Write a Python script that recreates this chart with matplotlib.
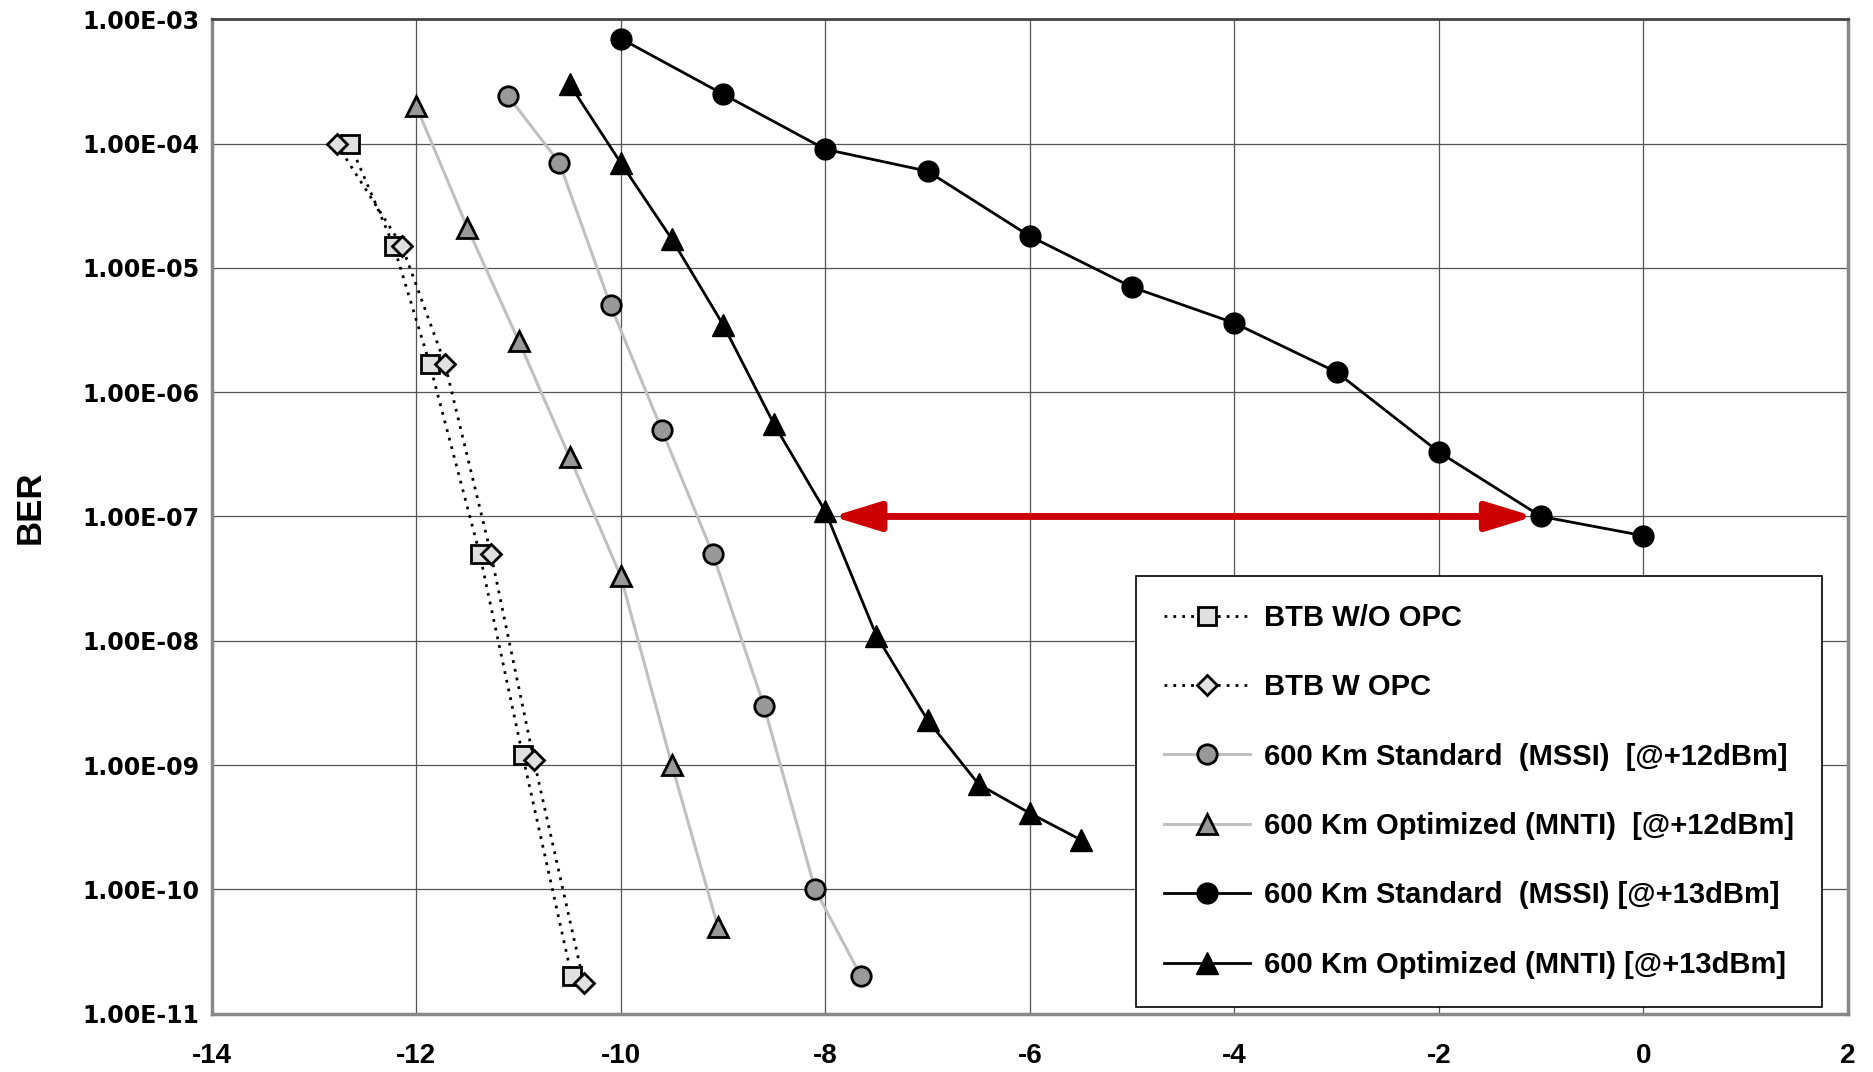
import numpy as np
import matplotlib
matplotlib.use("Agg")
import matplotlib.pyplot as plt
from matplotlib.ticker import FixedLocator, FuncFormatter

# OSNR / power axis values (dB) and BER
btb_wo_x = [-12.65, -12.22, -11.87, -11.38, -10.96, -10.48]
btb_wo_y = [1.0e-4, 1.5e-5, 1.7e-6, 5.0e-8, 1.2e-9, 2.0e-11]

btb_w_x = [-12.78, -12.14, -11.72, -11.27, -10.85, -10.36]
btb_w_y = [1.0e-4, 1.5e-5, 1.7e-6, 5.0e-8, 1.1e-9, 1.75e-11]

std12_x = [-11.1, -10.6, -10.1, -9.6, -9.1, -8.6, -8.1, -7.65]
std12_y = [2.4e-4, 7.0e-5, 5.0e-6, 5.0e-7, 5.0e-8, 3.0e-9, 1.0e-10, 2.0e-11]

opt12_x = [-12.0, -11.5, -11.0, -10.5, -10.0, -9.5, -9.05]
opt12_y = [2.0e-4, 2.1e-5, 2.6e-6, 3.0e-7, 3.3e-8, 1.0e-9, 5.0e-11]

std13_x = [-10, -9, -8, -7, -6, -5, -4, -3, -2, -1, 0]
std13_y = [7.0e-4, 2.5e-4, 9.0e-5, 6.0e-5, 1.8e-5, 7.0e-6, 3.6e-6, 1.45e-6,
           3.3e-7, 1.0e-7, 7.0e-8]

opt13_x = [-10.5, -10, -9.5, -9, -8.5, -8, -7.5, -7, -6.5, -6, -5.5]
opt13_y = [3.0e-4, 7.0e-5, 1.7e-5, 3.5e-6, 5.5e-7, 1.1e-7, 1.1e-8, 2.3e-9,
           7.0e-10, 4.1e-10, 2.5e-10]

labels = ["BTB W/O OPC", "BTB W OPC",
          "600 Km Standard  (MSSI)  [@+12dBm]",
          "600 Km Optimized (MNTI)  [@+12dBm]",
          "600 Km Standard  (MSSI) [@+13dBm]",
          "600 Km Optimized (MNTI) [@+13dBm]"]

x_ticks = [-14, -12, -10, -8, -6, -4, -2, 0, 2]
y_ticks = [1e-3, 1e-4, 1e-5, 1e-6, 1e-7, 1e-8, 1e-9, 1e-10, 1e-11]

narrow = ["Liberation Sans", "DejaVu Sans"]

fig = plt.figure(figsize=(18.74, 10.72), dpi=100)
ax = fig.add_axes([0.113, 0.0545, 0.873, 0.9275])

dots = (0, (1, 2.2))
ax.plot(btb_wo_x, btb_wo_y, linestyle=dots, color="black", lw=2,
        marker="s", ms=13, mfc="#e0e0e0", mec="black", mew=2, label=labels[0])
ax.plot(btb_w_x, btb_w_y, linestyle=dots, color="black", lw=2,
        marker="D", ms=10, mfc="#e0e0e0", mec="black", mew=2, label=labels[1])
ax.plot(std12_x, std12_y, color="#c0c0c0", lw=2.2,
        marker="o", ms=14, mfc="#999999", mec="black", mew=2, label=labels[2])
ax.plot(opt12_x, opt12_y, color="#c0c0c0", lw=2.2,
        marker="^", ms=15, mfc="#999999", mec="black", mew=2, label=labels[3])
ax.plot(std13_x, std13_y, color="black", lw=2,
        marker="o", ms=15, mfc="black", mec="black", label=labels[4])
ax.plot(opt13_x, opt13_y, color="black", lw=2,
        marker="^", ms=16, mfc="black", mec="black", label=labels[5])

# red double arrow showing the gain at BER 1e-7
ax.annotate("", xy=(-7.93, 1e-7), xytext=(-1.07, 1e-7),
            arrowprops=dict(arrowstyle="<|-|>,head_length=1.3,head_width=0.4",
                            color="#cc0000", lw=5, mutation_scale=22,
                            shrinkA=0, shrinkB=0))

ax.set_yscale("log")
ax.set_xlim(-14, 2)
ax.set_ylim(1e-11, 1e-3)
ax.xaxis.set_major_locator(FixedLocator(x_ticks))
ax.yaxis.set_major_locator(FixedLocator(y_ticks))
ax.yaxis.set_minor_locator(FixedLocator([]))
ax.yaxis.set_major_formatter(FuncFormatter(lambda v, p: f"{v:.2E}"))
ax.xaxis.set_major_formatter(FuncFormatter(lambda v, p: f"{v:g}"))
ax.grid(True, color="#555555", lw=0.9)
ax.set_axisbelow(True)
ax.tick_params(length=0)
ax.tick_params(axis="y", pad=9)
ax.tick_params(axis="x", pad=21)

for t in ax.get_yticklabels():
    t.set_fontfamily("DejaVu Sans")
    t.set_fontweight("bold")
    t.set_fontsize(17)
for t in ax.get_xticklabels():
    t.set_fontfamily(narrow)
    t.set_fontweight("bold")
    t.set_fontsize(20)

for side in ["left", "bottom", "right"]:
    ax.spines[side].set_color("#888888")
    ax.spines[side].set_linewidth(2.5)
ax.spines["top"].set_color("#444444")
ax.spines["top"].set_linewidth(2)

fig.text(0.016, 0.527, "BER", rotation=90, ha="center", va="center",
         fontsize=25, fontweight="bold", family=narrow)

leg = ax.legend(loc="upper left", bbox_to_anchor=(0.565, 0.44),
                prop=dict(family=narrow, weight="bold", size=21),
                frameon=True, fancybox=False, edgecolor="black",
                framealpha=1, borderpad=0.95, labelspacing=1.42,
                handlelength=2.95, handletextpad=0.5, borderaxespad=0)
leg.get_frame().set_linewidth(1.2)

fig.savefig("out.png", dpi=100)
